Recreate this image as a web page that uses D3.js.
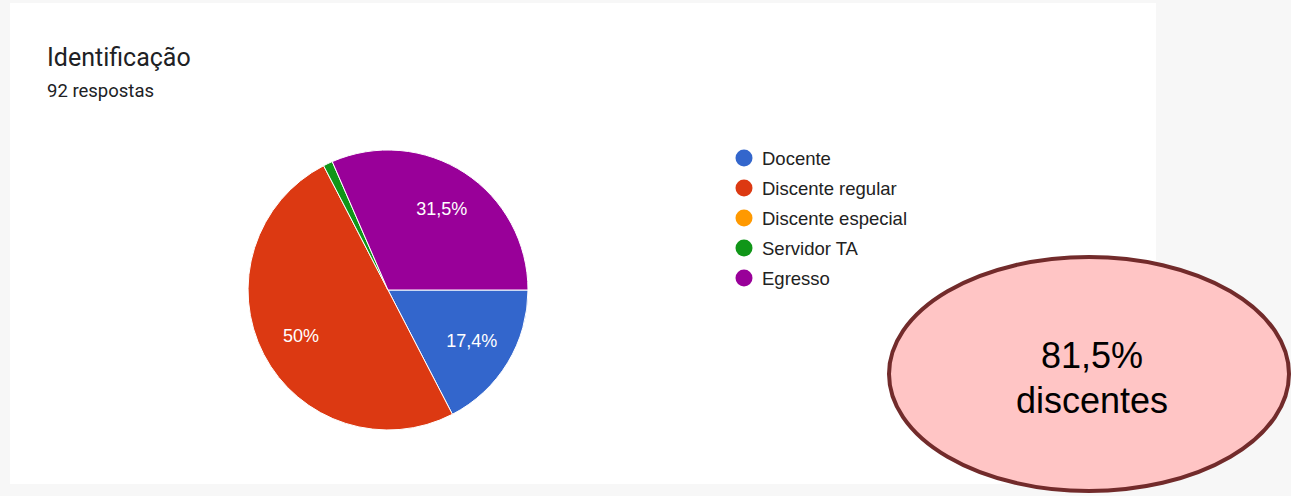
<!DOCTYPE html>
<html>
<head>
<meta charset="utf-8">
<script src="https://cdn.jsdelivr.net/npm/d3@7"></script>
<style>
  body { margin: 0; background: #f7f7f7; }
  svg { display: block; }
</style>
</head>
<body>
<div id="chart"></div>
<script>
// data (92 respostas)
const categories = ["Docente", "Discente regular", "Discente especial", "Servidor TA", "Egresso"];
const counts = [16, 46, 0, 1, 29];
const colors = ["#3366cc", "#dc3912", "#ff9900", "#109618", "#990099"];
const title = "Identificação";
const subtitle = "92 respostas";
const calloutLines = ["81,5%", "discentes"];

const width = 1291, height = 496;

const svg = d3.select("#chart").append("svg")
  .attr("width", width)
  .attr("height", height);

// white card
svg.append("rect")
  .attr("x", 10).attr("y", 3)
  .attr("width", 1146).attr("height", 481)
  .attr("fill", "#ffffff");

svg.append("text")
  .attr("x", 47).attr("y", 66)
  .attr("font-family", "Roboto, sans-serif")
  .attr("font-size", 25)
  .attr("fill", "#202124")
  .text(title);

svg.append("text")
  .attr("x", 47).attr("y", 97)
  .attr("font-family", "Roboto, sans-serif")
  .attr("font-size", 18.5)
  .attr("fill", "#202124")
  .text(subtitle);

// pie
const total = d3.sum(counts);
const data = categories.map((c, i) => ({ name: c, value: counts[i], color: colors[i] }));
const radius = 140;

const pie = d3.pie()
  .sort(null)
  .value(d => d.value)
  .startAngle(Math.PI / 2)
  .endAngle(Math.PI / 2 + Math.PI * 2);

const arc = d3.arc().innerRadius(0).outerRadius(radius);
const labelArc = d3.arc().innerRadius(radius * 0.7).outerRadius(radius * 0.7);

const pieG = svg.append("g").attr("transform", "translate(388,290)");
const arcs = pie(data).filter(d => d.data.value > 0);

pieG.selectAll("path")
  .data(arcs)
  .enter().append("path")
  .attr("d", arc)
  .attr("fill", d => d.data.color)
  .attr("stroke", "#ffffff")
  .attr("stroke-width", 1);

const fmt = v => {
  const p = Math.round(v / total * 1000) / 10;
  return String(p).replace(".", ",") + "%";
};

pieG.selectAll("text")
  .data(arcs.filter(d => d.data.value / total > 0.05))
  .enter().append("text")
  .attr("transform", d => "translate(" + labelArc.centroid(d) + ")")
  .attr("text-anchor", "middle")
  .attr("dy", "0.36em")
  .attr("font-family", "Arial, 'Liberation Sans', sans-serif")
  .attr("font-size", 18)
  .attr("fill", "#ffffff")
  .text(d => fmt(d.data.value));

// legend
const legendY = d3.scalePoint()
  .domain(categories)
  .range([158, 278]);

const legend = svg.append("g");
const items = legend.selectAll("g")
  .data(data)
  .enter().append("g")
  .attr("transform", d => "translate(744," + legendY(d.name) + ")");

items.append("circle")
  .attr("r", 8.5)
  .attr("fill", d => d.color);

items.append("text")
  .attr("x", 18)
  .attr("dy", "0.36em")
  .attr("font-family", "Arial, 'Liberation Sans', sans-serif")
  .attr("font-size", 18.5)
  .attr("fill", "#222222")
  .text(d => d.name);

// callout ellipse
svg.append("ellipse")
  .attr("cx", 1089).attr("cy", 374)
  .attr("rx", 200).attr("ry", 117)
  .attr("fill", "#ffc5c5")
  .attr("stroke", "#722b2b")
  .attr("stroke-width", 4);

svg.append("g").selectAll("text")
  .data(calloutLines)
  .enter().append("text")
  .attr("x", 1092)
  .attr("y", (d, i) => 368 + i * 45)
  .attr("text-anchor", "middle")
  .attr("font-family", "Arial, 'Liberation Sans', sans-serif")
  .attr("font-size", 36)
  .attr("fill", "#000000")
  .text(d => d);
</script>
</body>
</html>
